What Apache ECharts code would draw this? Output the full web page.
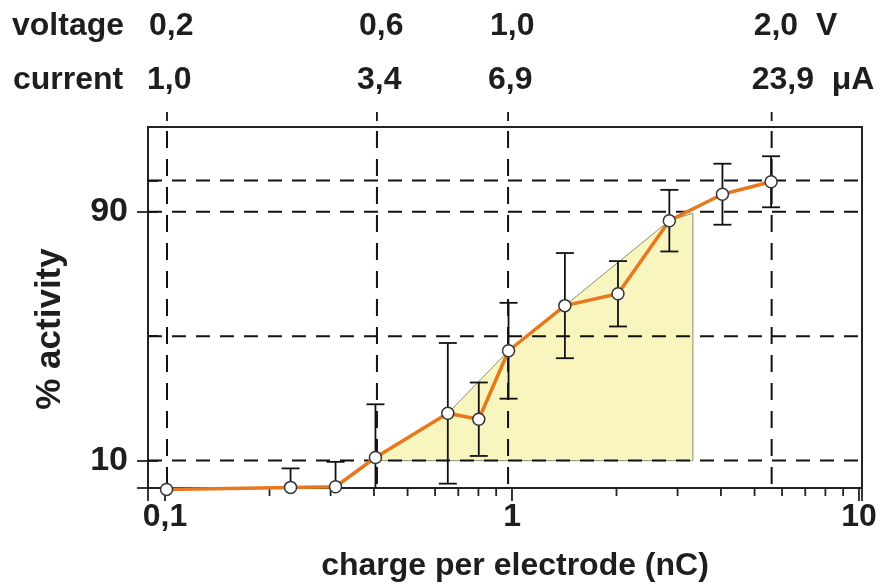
<!DOCTYPE html>
<html>
<head>
<meta charset="utf-8">
<script src="https://cdn.jsdelivr.net/npm/echarts@6/dist/echarts.min.js"></script>
<style>
html,body{margin:0;padding:0;background:#fff}
#chart{width:885px;height:584px}
</style>
</head>
<body>
<div id="chart"></div>
<script>
// measured points: charge per electrode (nC), % activity, error (+/-)
var charge   = [0.101, 0.23, 0.31, 0.404, 0.653, 0.802, 0.977, 1.42, 2.02, 2.84, 4.04, 5.58];
var activity = [0.75, 1.4, 1.6, 11.0, 25.2, 23.3, 45.3, 59.8, 63.6, 87.1, 95.6, 99.6];
var errBar   = [0, 6.1, 8.0, 17.1, 22.6, 11.8, 15.4, 16.9, 10.5, 9.9, 9.8, 8.2];

// yellow area under the upper envelope
var shadeX = [0.404, 0.653, 0.977, 1.42, 2.84, 3.32, 3.32, 0.404];
var shadeY = [11.0, 25.2, 45.3, 59.8, 87.1, 89.5, 10, 10];

// top scale : voltage / current at given charge
var voltX      = [0.1013, 0.408, 0.974, 5.6];
var voltLabels = ['0,2', '0,6', '1,0', '2,0'];
var currLabels = ['1,0', '3,4', '6,9', '23,9'];
var voltUnit = 'V', currUnit = 'μA';

var hLines = [10, 50, 90, 100];
var yLabels = [10, 90];
var minorX = [0.2, 0.3, 0.4, 0.5, 0.6, 0.7, 0.8, 0.9, 2, 3, 4, 5, 6, 7, 8, 9];

var xMin = 0.0893, xMax = 10.2;
var yMin = 1.2, yMax = 117.2;

var FONT = '"Liberation Sans", Arial, sans-serif';
var TXT = '#1e1e1e';

var myChart = echarts.init(document.getElementById('chart'));

function isPow10(v){
    var l = Math.log(v) / Math.LN10;
    return Math.abs(l - Math.round(l)) < 1e-6;
}

var option = {
    animation: false,
    backgroundColor: '#fff',
    grid: {left: 148, right: 23, top: 127, bottom: 96, show: true, borderColor: '#222', borderWidth: 2},
    xAxis: [{
        type: 'log', min: xMin, max: xMax, logBase: 10,
        axisLine: {lineStyle: {color: '#222', width: 2}},
        axisTick: {inside: false, length: 13, lineStyle: {color: '#222', width: 1.8}},
        splitLine: {show: false},
        minorTick: {show: false},
        axisLabel: {
            margin: 13, color: TXT, fontFamily: FONT, fontWeight: 'bold', fontSize: 32,
            formatter: function(v){
                if(!isPow10(v)) return '';
                return String(v).replace('.', ',');
            }
        }
    }],
    yAxis: [{
        type: 'value', min: yMin, max: yMax,
        axisLine: {show: true, lineStyle: {color: '#222', width: 2}},
        axisTick: {show: true, inside: true, length: 10, customValues: [yMin, 10, 50, 90, 100], lineStyle: {color: '#222', width: 1.8}},
        splitLine: {show: false},
        axisLabel: {margin: 20, color: TXT, fontFamily: FONT, fontWeight: 'bold', fontSize: 34, customValues: yLabels}
    }, {
        type: 'value', min: yMin, max: yMax, position: 'left',
        axisLine: {show: false},
        axisTick: {show: true, inside: false, length: 11, customValues: [yMin, 10, 90], lineStyle: {color: '#222', width: 1.8}},
        splitLine: {show: false},
        axisLabel: {show: false}
    }],
    graphic: [
        {type: 'text', left: 12, top: 10, style: {text: 'voltage', font: 'bold 32px ' + FONT, fill: TXT}},
        {type: 'text', left: 13, top: 64, style: {text: 'current', font: 'bold 32px ' + FONT, fill: TXT}},
        {type: 'text', x: 50, y: 329, rotation: Math.PI / 2,
            style: {text: '% activity', font: 'bold 35px ' + FONT, fill: TXT, align: 'center', verticalAlign: 'middle'}},
        {type: 'text', x: 515, y: 566,
            style: {text: 'charge per electrode (nC)', font: 'bold 32px ' + FONT, fill: TXT, align: 'center', verticalAlign: 'middle'}}
    ],
    series: [
        {   // shaded area
            type: 'custom', z: 1, silent: true, clip: true,
            data: [[shadeX[0], shadeY[0]]],
            renderItem: function(params, api){
                var pts = shadeX.map(function(x, i){ return api.coord([x, shadeY[i]]); });
                return {type: 'polygon', shape: {points: pts},
                    style: {fill: '#f8f5bf', stroke: '#8f8f70', lineWidth: 1}};
            }
        },
        {   // dashed horizontal grid lines
            type: 'custom', z: 2, silent: true, clip: false,
            data: hLines.map(function(v){ return [xMin, v]; }),
            renderItem: function(params, api){
                var cs = params.coordSys;
                var p = api.coord([xMin, api.value(1)]);
                return {type: 'line', shape: {x1: cs.x, y1: p[1], x2: cs.x + cs.width, y2: p[1]},
                    style: {stroke: '#111', lineWidth: 2, lineDash: [14, 10]}};
            }
        },
        {   // dashed vertical lines at the voltage marks, with the short mark above the frame
            type: 'custom', z: 2, silent: true, clip: false,
            data: voltX.map(function(v){ return [v, yMin]; }),
            renderItem: function(params, api){
                var cs = params.coordSys;
                var p = api.coord([api.value(0), yMin]);
                return {type: 'group', children: [
                    {type: 'line', shape: {x1: p[0], y1: cs.y + 4, x2: p[0], y2: cs.y + cs.height},
                        style: {stroke: '#111', lineWidth: 2, lineDash: [17, 11]}},
                    {type: 'line', shape: {x1: p[0], y1: cs.y - 15, x2: p[0], y2: cs.y - 6},
                        style: {stroke: '#111', lineWidth: 1.8}}
                ]};
            }
        },
        {   // top labels voltage / current
            type: 'custom', z: 2, silent: true, clip: false,
            data: voltX.map(function(v){ return [v, yMax]; }),
            renderItem: function(params, api){
                var cs = params.coordSys;
                var i = params.dataIndex;
                var p = api.coord([api.value(0), yMax]);
                var last = i === voltX.length - 1;
                var vt = voltLabels[i] + (last ? '  ' + voltUnit : '');
                var ct = currLabels[i] + (last ? '  ' + currUnit : '');
                return {type: 'group', children: [
                    {type: 'text', x: p[0] - 18, y: cs.y - 101,
                        style: {text: vt, font: 'bold 32px ' + FONT, fill: TXT, align: 'left', verticalAlign: 'middle'}},
                    {type: 'text', x: p[0] - 20, y: cs.y - 47,
                        style: {text: ct, font: 'bold 32px ' + FONT, fill: TXT, align: 'left', verticalAlign: 'middle'}}
                ]};
            }
        },
        {   // minor ticks below the x axis
            type: 'custom', z: 2, silent: true, clip: false,
            data: minorX.map(function(v){ return [v, yMin]; }),
            renderItem: function(params, api){
                var p = api.coord([api.value(0), yMin]);
                return {type: 'line', shape: {x1: p[0], y1: p[1], x2: p[0], y2: p[1] + 8},
                    style: {stroke: '#222', lineWidth: 1.8}};
            }
        },
        {   // error bars
            type: 'custom', z: 3, silent: true, clip: true,
            data: charge.map(function(x, i){ return [x, activity[i], errBar[i]]; }),
            renderItem: function(params, api){
                var e = api.value(2);
                if(!e) return null;
                var x = api.value(0), y = api.value(1);
                var hi = api.coord([x, y + e]);
                var lo = api.coord([x, y - e]);
                var w = 9;
                var st = {stroke: '#111', lineWidth: 1.8};
                return {type: 'group', children: [
                    {type: 'line', shape: {x1: hi[0], y1: hi[1], x2: lo[0], y2: lo[1]}, style: st},
                    {type: 'line', shape: {x1: hi[0] - w, y1: hi[1], x2: hi[0] + w, y2: hi[1]}, style: st},
                    {type: 'line', shape: {x1: lo[0] - w, y1: lo[1], x2: lo[0] + w, y2: lo[1]}, style: st}
                ]};
            }
        },
        {
            type: 'line', z: 4,
            data: charge.map(function(x, i){ return [x, activity[i]]; }),
            symbol: 'circle', symbolSize: 12, showSymbol: true, clip: false,
            lineStyle: {color: '#e8781e', width: 3.5},
            itemStyle: {color: '#fff', borderColor: '#333', borderWidth: 1.5}
        }
    ]
};
myChart.setOption(option);
</script>
</body>
</html>
